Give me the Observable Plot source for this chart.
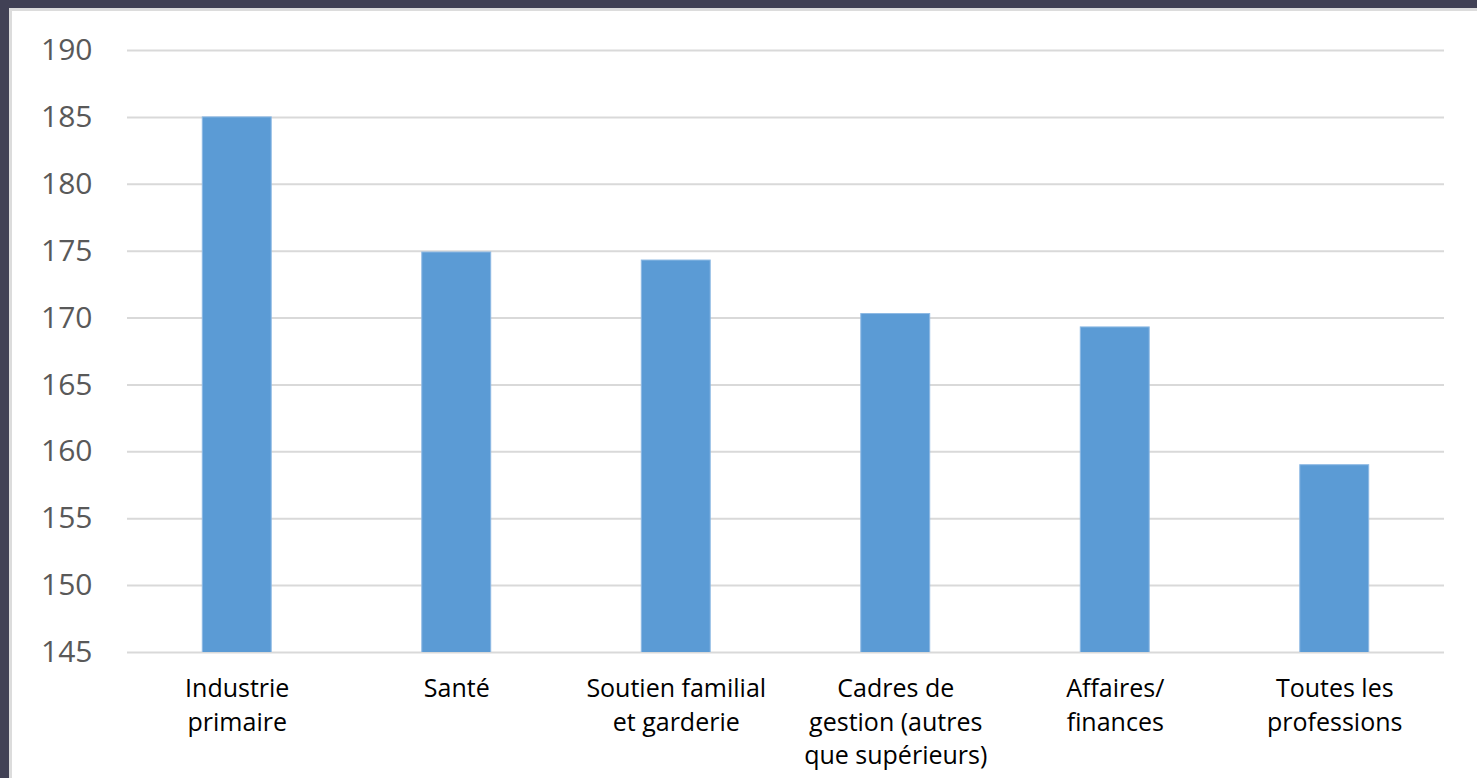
<!DOCTYPE html>
<html>
<head>
<meta charset="utf-8">
<script src="https://cdn.jsdelivr.net/npm/d3@7"></script>
<script src="https://cdn.jsdelivr.net/npm/@observablehq/plot@0.6"></script>
<style>
  html, body { margin: 0; padding: 0; background: #414155; width: 1477px; height: 778px; overflow: hidden; }
  #panel {
    position: absolute; left: 9px; top: 8px;
    border-top: 3px solid #dcdcdc; border-left: 3px solid #dcdcdc;
    background: #ffffff;
    width: 1465px; height: 767px;
  }
  #panel svg { display: block; }
</style>
</head>
<body>
<div id="panel"></div>
<script>
// Occupations
const categories = [
  "Industrie primaire",
  "Santé",
  "Soutien familial et garderie",
  "Cadres de gestion (autres que supérieurs)",
  "Affaires/finances",
  "Toutes les professions"
];
// Axis labels, wrapped as displayed
const tickLabels = [
  "Industrie\nprimaire",
  "Santé",
  "Soutien familial\net garderie",
  "Cadres de\ngestion (autres\nque supérieurs)",
  "Affaires/\nfinances",
  "Toutes les\nprofessions"
];
// Values per occupation
const values = [185, 174.9, 174.3, 170.3, 169.3, 159];
// Value axis ticks
const yTicks = [145, 150, 155, 160, 165, 170, 175, 180, 185, 190];

const data = categories.map((c, i) => ({category: c, value: values[i]}));
const labelOf = new Map(categories.map((c, i) => [c, tickLabels[i]]));

const chart = Plot.plot({
  width: 1465,
  height: 767,
  marginLeft: 115,
  marginRight: 33,
  marginTop: 39,
  marginBottom: 126,
  style: {background: "#ffffff", overflow: "visible"},
  x: {domain: categories, paddingInner: 0.686, paddingOuter: 0.343, round: false, label: null},
  y: {domain: [yTicks[0], yTicks[yTicks.length - 1]], label: null},
  marks: [
    Plot.gridY(yTicks, {stroke: "#d9d9d9", strokeOpacity: 1, strokeWidth: 2}),
    Plot.barY(data, {x: "category", y: "value", fill: "#5b9bd5", stroke: "#8db9e3", strokeWidth: 1, clip: true}),
    Plot.axisY(yTicks, {
      tickSize: 0, tickPadding: 35, fontSize: 30,
      fontFamily: "Open Sans", fill: "#595959", tickFormat: d => String(d)
    }),
    Plot.axisX({
      tickSize: 0, tickPadding: 21, fontSize: 25, lineHeight: 1.34,
      fontFamily: "Open Sans", fill: "#000000",
      tickFormat: d => labelOf.get(d)
    })
  ]
});
document.getElementById("panel").appendChild(chart);
</script>
</body>
</html>
